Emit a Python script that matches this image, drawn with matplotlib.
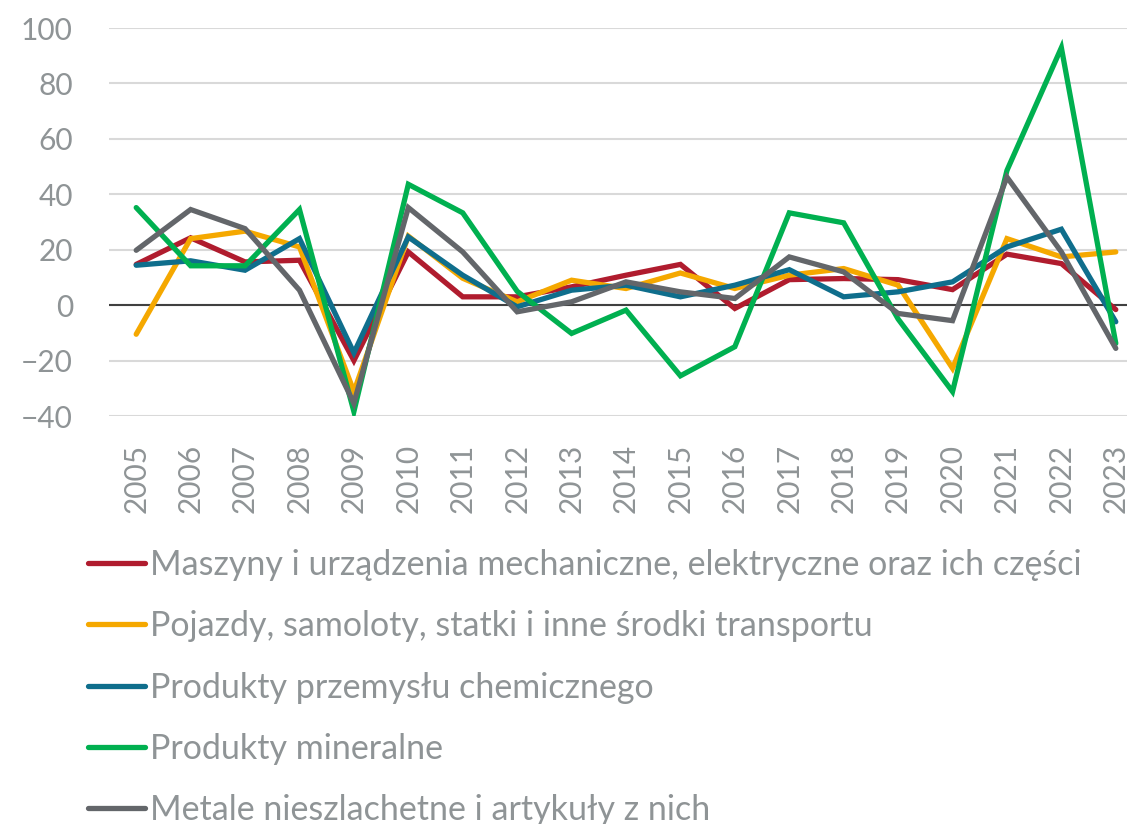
import matplotlib
matplotlib.use("Agg")
import matplotlib.pyplot as plt
import numpy as np

plt.rcParams['font.family'] = ['Lato', 'DejaVu Sans']

years = [str(y) for y in range(2005, 2024)]

maszyny = [14.7, 24.3, 15.6, 16.2, -20.0, 19.2, 3.0, 3.0, 6.6, 10.8, 14.7, -1.2, 9.2, 9.6, 9.2, 5.6, 18.4, 15.0, -1.6]
pojazdy = [-10.5, 24.0, 26.7, 21.0, -31.2, 24.9, 9.7, 1.2, 9.0, 6.0, 11.6, 6.0, 10.8, 13.2, 7.2, -22.8, 24.0, 17.4, 19.2]
chemia = [14.4, 16.0, 12.6, 24.0, -17.2, 24.6, 10.8, -0.6, 5.4, 7.2, 3.0, 7.2, 12.8, 3.0, 4.8, 8.4, 21.0, 27.4, -6.0]
mineralne = [35.2, 14.2, 14.2, 34.5, -38.4, 43.6, 33.3, 5.0, -10.2, -1.8, -25.5, -15.0, 33.3, 29.7, -5.0, -31.2, 48.6, 92.9, -13.8]
metale = [19.8, 34.5, 27.6, 5.4, -35.4, 35.2, 19.2, -2.4, 1.2, 8.4, 4.8, 2.4, 17.4, 12.0, -3.0, -5.6, 46.2, 19.2, -15.6]

labels = [
    "Maszyny i urządzenia mechaniczne, elektryczne oraz ich części",
    "Pojazdy, samoloty, statki i inne środki transportu",
    "Produkty przemysłu chemicznego",
    "Produkty mineralne",
    "Metale nieszlachetne i artykuły z nich",
]
colors = ["#B01C2E", "#F5A800", "#0F6E8C", "#00B050", "#63666A"]
series = [maszyny, pojazdy, chemia, mineralne, metale]

text_gray = "#8F9496"

fig = plt.figure(figsize=(11.27, 8.24), dpi=100)
W, H = 1127, 824
left, right, top, bottom = 109, 1143, 28, 416
ax = fig.add_axes([left / W, 1 - bottom / H, (right - left) / W, (bottom - top) / H])

x = np.arange(len(years))
lines = []
for vals, c, lab in zip(series, colors, labels):
    ln, = ax.plot(x, vals, color=c, lw=3.8, label=lab, solid_capstyle='round', solid_joinstyle='miter')
    lines.append(ln)

ax.set_xlim(-0.5, len(years) - 0.5)
ax.set_ylim(-40, 100)
ax.set_yticks(range(-40, 101, 20))
ax.set_xticks(x)
ax.set_xticklabels(years, rotation=90)
ax.yaxis.grid(True, color="#D9D9D9", lw=1.5)
ax.set_axisbelow(True)
ax.axhline(0, color="#404040", lw=1.5, zorder=1.5)
for s in ax.spines.values():
    s.set_visible(False)
ax.tick_params(axis='both', length=0, labelsize=21.5, colors=text_gray)
ax.tick_params(axis='y', pad=26)
ax.tick_params(axis='x', pad=20)

fig.legend(handles=lines, labels=labels, loc='upper left', bbox_to_anchor=(88 / W, 1 - 549 / H),
           frameon=False, fontsize=24.5, labelcolor=text_gray, handlelength=1.68, handletextpad=0.15,
           labelspacing=0.86, borderaxespad=0, borderpad=0)

fig.savefig("out.png", dpi=100)
